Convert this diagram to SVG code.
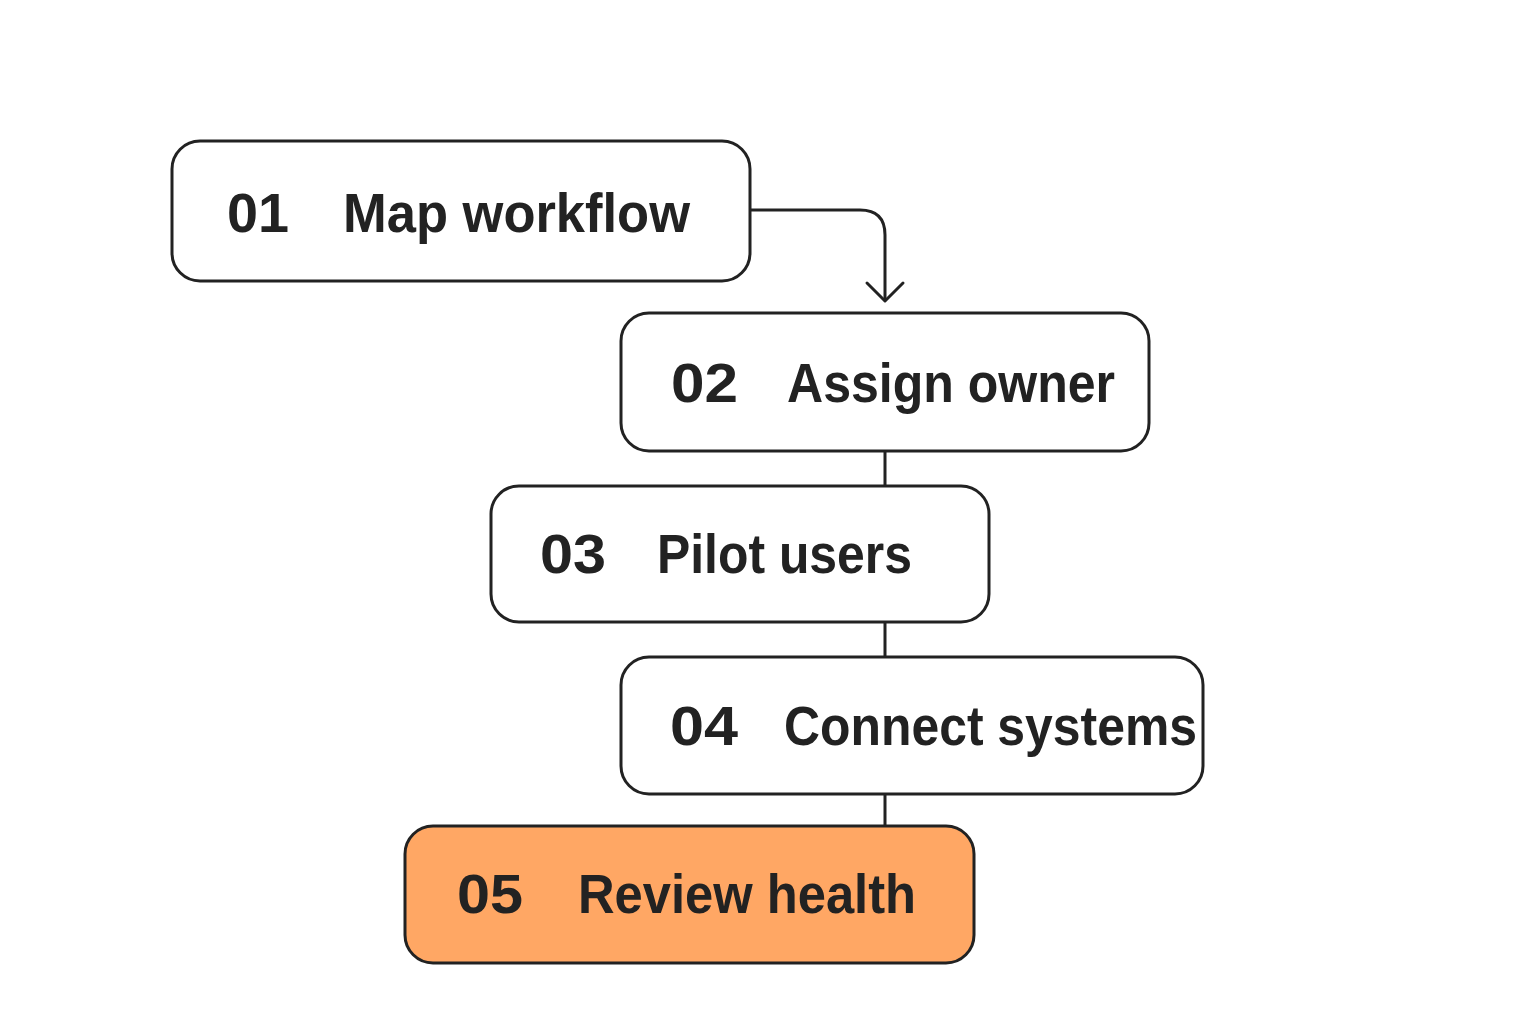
<svg xmlns="http://www.w3.org/2000/svg" width="1536" height="1024" viewBox="0 0 1536 1024">
<style>
.box{fill:#ffffff;stroke:#222222;stroke-width:3}
.hl{fill:#FFA764}
.t{font-family:"Liberation Sans",Arial,sans-serif;font-size:56px;font-weight:bold;fill:#222222}
.c{fill:none;stroke:#222222;stroke-width:3;stroke-linecap:round;stroke-linejoin:round}
</style>
<rect width="1536" height="1024" fill="#ffffff"/>
<g id="connectors">
<path class="c" d="M750 210 H860 Q885 210 885 235 V300"/>
<path class="c" d="M867 283 L885 301 L903 283"/>
<line class="c" x1="885" y1="451" x2="885" y2="486"/>
<line class="c" x1="885" y1="622" x2="885" y2="657"/>
<line class="c" x1="885" y1="794" x2="885" y2="826"/>
</g>
<g id="node1">
<rect class="box" x="172" y="141" width="578" height="140" rx="28"/>
<text class="t" x="227" y="232" textLength="62" lengthAdjust="spacingAndGlyphs">01</text>
<text class="t" x="343" y="232" textLength="347" lengthAdjust="spacingAndGlyphs">Map workflow</text>
</g>
<g id="node2">
<rect class="box" x="621" y="313" width="528" height="138" rx="28"/>
<text class="t" x="671" y="402" textLength="67" lengthAdjust="spacingAndGlyphs">02</text>
<text class="t" x="787" y="402" textLength="328" lengthAdjust="spacingAndGlyphs">Assign owner</text>
</g>
<g id="node3">
<rect class="box" x="491" y="486" width="498" height="136" rx="28"/>
<text class="t" x="540" y="573" textLength="66" lengthAdjust="spacingAndGlyphs">03</text>
<text class="t" x="657" y="573" textLength="255" lengthAdjust="spacingAndGlyphs">Pilot users</text>
</g>
<g id="node4">
<rect class="box" x="621" y="657" width="582" height="137" rx="28"/>
<text class="t" x="670" y="745" textLength="68" lengthAdjust="spacingAndGlyphs">04</text>
<text class="t" x="784" y="745" textLength="413" lengthAdjust="spacingAndGlyphs">Connect systems</text>
</g>
<g id="node5">
<rect class="box hl" x="405" y="826" width="569" height="137" rx="28"/>
<text class="t" x="457" y="913" textLength="66" lengthAdjust="spacingAndGlyphs">05</text>
<text class="t" x="578" y="913" textLength="338" lengthAdjust="spacingAndGlyphs">Review health</text>
</g>
</svg>
